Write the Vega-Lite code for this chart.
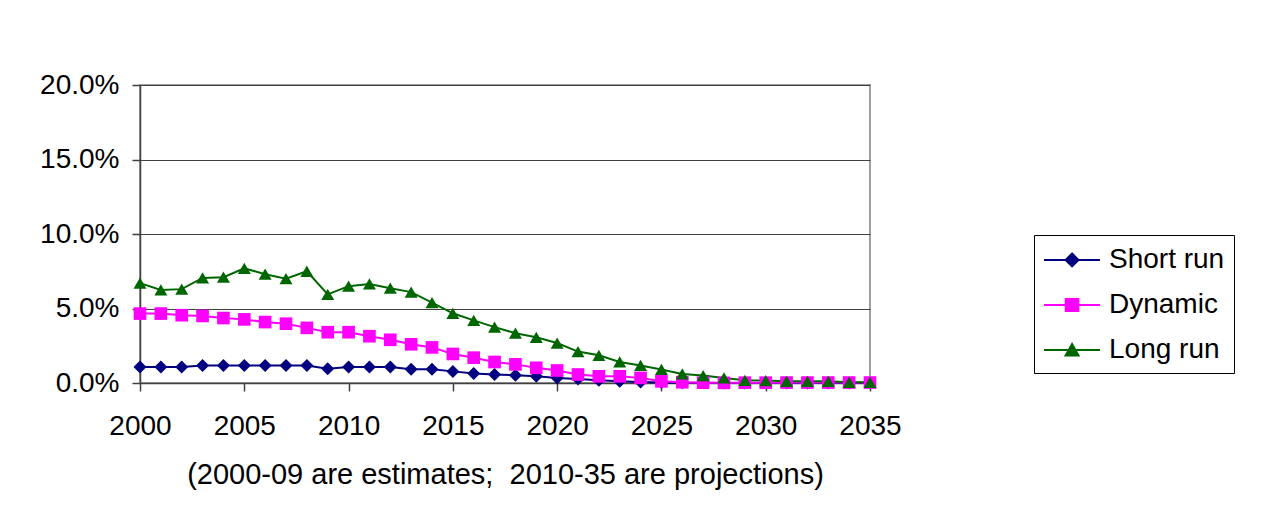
{
  "$schema": "https://vega.github.io/schema/vega-lite/v6.json",
  "autosize": {"type": "none"},
  "width": 730,
  "height": 298,
  "padding": {"left": 140, "top": 85, "right": 403, "bottom": 148},
  "background": "#ffffff",
  "datasets": {
    "rows": [
      {"year": 2000, "series": "Short run", "value": 0.0107},
      {"year": 2001, "series": "Short run", "value": 0.0107},
      {"year": 2002, "series": "Short run", "value": 0.0107},
      {"year": 2003, "series": "Short run", "value": 0.0118},
      {"year": 2004, "series": "Short run", "value": 0.0118},
      {"year": 2005, "series": "Short run", "value": 0.0118},
      {"year": 2006, "series": "Short run", "value": 0.0118},
      {"year": 2007, "series": "Short run", "value": 0.0118},
      {"year": 2008, "series": "Short run", "value": 0.0118},
      {"year": 2009, "series": "Short run", "value": 0.0095},
      {"year": 2010, "series": "Short run", "value": 0.0107},
      {"year": 2011, "series": "Short run", "value": 0.0107},
      {"year": 2012, "series": "Short run", "value": 0.0107},
      {"year": 2013, "series": "Short run", "value": 0.0093},
      {"year": 2014, "series": "Short run", "value": 0.0093},
      {"year": 2015, "series": "Short run", "value": 0.0078},
      {"year": 2016, "series": "Short run", "value": 0.0064},
      {"year": 2017, "series": "Short run", "value": 0.0057},
      {"year": 2018, "series": "Short run", "value": 0.0052},
      {"year": 2019, "series": "Short run", "value": 0.0045},
      {"year": 2020, "series": "Short run", "value": 0.0034},
      {"year": 2021, "series": "Short run", "value": 0.0027},
      {"year": 2022, "series": "Short run", "value": 0.0018},
      {"year": 2023, "series": "Short run", "value": 0.0011},
      {"year": 2024, "series": "Short run", "value": 0.0007},
      {"year": 2025, "series": "Short run", "value": 0.0003},
      {"year": 2026, "series": "Short run", "value": 0.0002},
      {"year": 2027, "series": "Short run", "value": 0.0001},
      {"year": 2028, "series": "Short run", "value": 0.0},
      {"year": 2029, "series": "Short run", "value": 0.0},
      {"year": 2030, "series": "Short run", "value": 0.0},
      {"year": 2031, "series": "Short run", "value": 0.0},
      {"year": 2032, "series": "Short run", "value": 0.0},
      {"year": 2033, "series": "Short run", "value": 0.0},
      {"year": 2034, "series": "Short run", "value": 0.0},
      {"year": 2035, "series": "Short run", "value": 0.0},
      {"year": 2000, "series": "Dynamic", "value": 0.0466},
      {"year": 2001, "series": "Dynamic", "value": 0.0466},
      {"year": 2002, "series": "Dynamic", "value": 0.0455},
      {"year": 2003, "series": "Dynamic", "value": 0.0450},
      {"year": 2004, "series": "Dynamic", "value": 0.0436},
      {"year": 2005, "series": "Dynamic", "value": 0.0427},
      {"year": 2006, "series": "Dynamic", "value": 0.0409},
      {"year": 2007, "series": "Dynamic", "value": 0.0398},
      {"year": 2008, "series": "Dynamic", "value": 0.0370},
      {"year": 2009, "series": "Dynamic", "value": 0.0341},
      {"year": 2010, "series": "Dynamic", "value": 0.0341},
      {"year": 2011, "series": "Dynamic", "value": 0.0314},
      {"year": 2012, "series": "Dynamic", "value": 0.0290},
      {"year": 2013, "series": "Dynamic", "value": 0.0260},
      {"year": 2014, "series": "Dynamic", "value": 0.0239},
      {"year": 2015, "series": "Dynamic", "value": 0.0195},
      {"year": 2016, "series": "Dynamic", "value": 0.0170},
      {"year": 2017, "series": "Dynamic", "value": 0.0141},
      {"year": 2018, "series": "Dynamic", "value": 0.0125},
      {"year": 2019, "series": "Dynamic", "value": 0.0102},
      {"year": 2020, "series": "Dynamic", "value": 0.0084},
      {"year": 2021, "series": "Dynamic", "value": 0.0057},
      {"year": 2022, "series": "Dynamic", "value": 0.0045},
      {"year": 2023, "series": "Dynamic", "value": 0.0045},
      {"year": 2024, "series": "Dynamic", "value": 0.0034},
      {"year": 2025, "series": "Dynamic", "value": 0.0011},
      {"year": 2026, "series": "Dynamic", "value": 0.0005},
      {"year": 2027, "series": "Dynamic", "value": 0.0002},
      {"year": 2028, "series": "Dynamic", "value": 0.0001},
      {"year": 2029, "series": "Dynamic", "value": 0.0002},
      {"year": 2030, "series": "Dynamic", "value": 0.0002},
      {"year": 2031, "series": "Dynamic", "value": 0.0003},
      {"year": 2032, "series": "Dynamic", "value": 0.0003},
      {"year": 2033, "series": "Dynamic", "value": 0.0003},
      {"year": 2034, "series": "Dynamic", "value": 0.0003},
      {"year": 2035, "series": "Dynamic", "value": 0.0003},
      {"year": 2000, "series": "Long run", "value": 0.0670},
      {"year": 2001, "series": "Long run", "value": 0.0625},
      {"year": 2002, "series": "Long run", "value": 0.0630},
      {"year": 2003, "series": "Long run", "value": 0.0705},
      {"year": 2004, "series": "Long run", "value": 0.0710},
      {"year": 2005, "series": "Long run", "value": 0.0770},
      {"year": 2006, "series": "Long run", "value": 0.0730},
      {"year": 2007, "series": "Long run", "value": 0.0700},
      {"year": 2008, "series": "Long run", "value": 0.0750},
      {"year": 2009, "series": "Long run", "value": 0.0595},
      {"year": 2010, "series": "Long run", "value": 0.0650},
      {"year": 2011, "series": "Long run", "value": 0.0665},
      {"year": 2012, "series": "Long run", "value": 0.0636},
      {"year": 2013, "series": "Long run", "value": 0.0610},
      {"year": 2014, "series": "Long run", "value": 0.0540},
      {"year": 2015, "series": "Long run", "value": 0.0468},
      {"year": 2016, "series": "Long run", "value": 0.0420},
      {"year": 2017, "series": "Long run", "value": 0.0375},
      {"year": 2018, "series": "Long run", "value": 0.0334},
      {"year": 2019, "series": "Long run", "value": 0.0307},
      {"year": 2020, "series": "Long run", "value": 0.0268},
      {"year": 2021, "series": "Long run", "value": 0.0211},
      {"year": 2022, "series": "Long run", "value": 0.0186},
      {"year": 2023, "series": "Long run", "value": 0.0141},
      {"year": 2024, "series": "Long run", "value": 0.0118},
      {"year": 2025, "series": "Long run", "value": 0.0091},
      {"year": 2026, "series": "Long run", "value": 0.0061},
      {"year": 2027, "series": "Long run", "value": 0.0050},
      {"year": 2028, "series": "Long run", "value": 0.0034},
      {"year": 2029, "series": "Long run", "value": 0.0018},
      {"year": 2030, "series": "Long run", "value": 0.0016},
      {"year": 2031, "series": "Long run", "value": 0.0011},
      {"year": 2032, "series": "Long run", "value": 0.0011},
      {"year": 2033, "series": "Long run", "value": 0.0011},
      {"year": 2034, "series": "Long run", "value": 0.0005},
      {"year": 2035, "series": "Long run", "value": 0.0005}
    ]
  },
  "data": {"name": "rows"},
  "encoding": {
    "x": {
      "field": "year",
      "type": "quantitative",
      "scale": {"domain": [2000, 2035], "nice": false, "zero": false},
      "axis": {
        "values": [2000, 2005, 2010, 2015, 2020, 2025, 2030, 2035],
        "format": "d",
        "grid": false,
        "labelPadding": 21,
        "labelFlush": false,
        "title": "(2000-09 are estimates;\u00a0 2010-35 are projections)",
        "titleFont": "Liberation Sans",
        "titleFontSize": 29,
        "titleFontWeight": "normal",
        "titleColor": "#000000",
        "titlePadding": 20
      }
    },
    "y": {
      "field": "value",
      "type": "quantitative",
      "scale": {"domain": [0, 0.2], "nice": false},
      "axis": {
        "values": [0, 0.05, 0.1, 0.15, 0.2],
        "format": ".1%",
        "grid": true,
        "title": null,
        "labelPadding": 13
      }
    },
    "color": {
      "field": "series",
      "type": "nominal",
      "scale": {
        "domain": ["Short run", "Dynamic", "Long run"],
        "range": ["#000080", "#ff00ff", "#006600"]
      },
      "legend": {
        "title": null,
        "orient": "none",
        "legendX": 894,
        "legendY": 150,
        "direction": "vertical",
        "strokeColor": "#000000",
        "fillColor": "#ffffff",
        "padding": 9,
        "rowPadding": 15,
        "labelFont": "Liberation Sans",
        "labelFontSize": 28,
        "labelColor": "#000000",
        "labelOffset": 34,
        "symbolSize": 900,
        "symbolStrokeWidth": 2,
        "encode": {
          "symbols": {
            "update": {
              "shape": {"signal": "datum.value === 'Short run' ? 'M-1.0,0H2.73M0.87,-0.43L1.3,0L0.87,0.43L0.44,0Z' : datum.value === 'Dynamic' ? 'M-1.0,0H2.73M0.45,-0.4H1.29V0.4H0.45Z' : 'M-1.0,0H2.73M0.87,-0.4L1.3,0.36H0.44Z'"},
              "fill": {"scale": "color", "field": "value"},
              "stroke": {"scale": "color", "field": "value"},
              "strokeWidth": {"value": 2},
              "opacity": {"value": 1},
              "fillOpacity": {"value": 1}
            }
          }
        }
      }
    }
  },
  "layer": [
    {"mark": {"type": "line", "strokeWidth": 2}},
    {
      "transform": [{"filter": "datum.series === 'Short run'"}],
      "mark": {"type": "point", "filled": true, "size": 169, "opacity": 1, "shape": "diamond"}
    },
    {
      "transform": [{"filter": "datum.series === 'Dynamic'"}],
      "mark": {"type": "point", "filled": true, "size": 160, "opacity": 1, "shape": "square"}
    },
    {
      "transform": [{"filter": "datum.series === 'Long run'"}],
      "mark": {"type": "point", "filled": true, "size": 169, "opacity": 1, "shape": "triangle-up"}
    }
  ],
  "config": {
    "font": "Liberation Sans",
    "view": {"stroke": "#808080", "strokeWidth": 1.5},
    "axis": {
      "labelFont": "Liberation Sans",
      "labelFontSize": 28,
      "labelColor": "#000000",
      "domainColor": "#404040",
      "domainWidth": 1.5,
      "tickColor": "#404040",
      "tickWidth": 1.5,
      "tickSize": 8,
      "gridColor": "#404040",
      "gridWidth": 1
    }
  }
}
